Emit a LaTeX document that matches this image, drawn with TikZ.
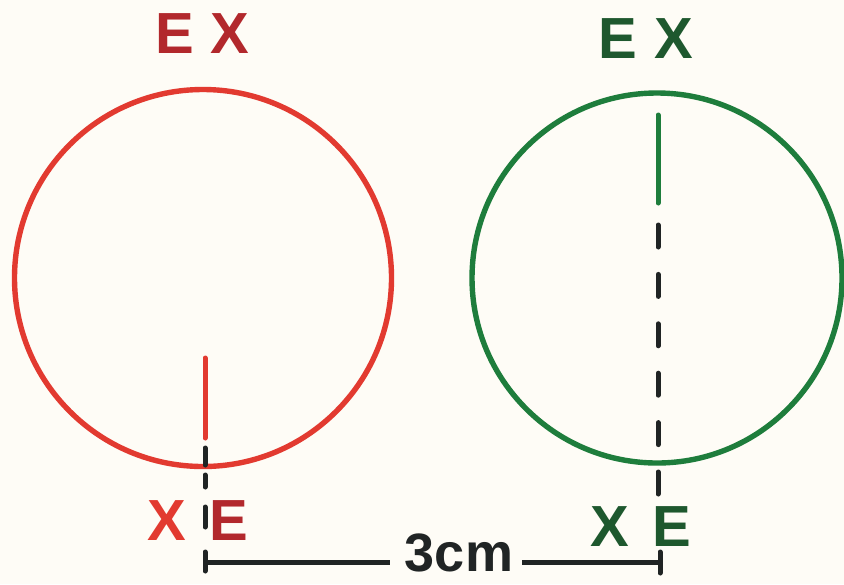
\documentclass[tikz,border=0pt]{standalone}
\usepackage{fontspec}
\setmainfont{Liberation Sans}

\definecolor{paper}{RGB}{254,252,246}
\definecolor{redink}{RGB}{226,58,48}
\definecolor{darkred}{RGB}{178,40,44}
\definecolor{greenink}{RGB}{30,125,60}
\definecolor{darkgreen}{RGB}{30,88,46}
\definecolor{ink}{RGB}{32,36,36}

\begin{document}
\begin{tikzpicture}[
    x=0.5pt, y=-0.5pt,
    ring/.style={circle, draw, line width=2.7pt,
                 minimum size=#1, inner sep=0pt},
    letter/.style={inner sep=0pt,
                   font=\fontsize{29}{30}\selectfont\bfseries},
    axisline/.style={line width=2.5pt, line cap=round},
    bar/.style={line width=2.5pt, draw=ink}
]
    \fill[paper] (0,0) rectangle (844,584);
    \useasboundingbox (0,0) rectangle (844,584);

    % the two circles
    \node[ring=188.5pt, draw=redink]   (redring)   at (203,278) {};
    \node[ring=185pt,   draw=greenink] (greenring) at (657,278) {};

    % labels above
    \node[letter, text=darkred]   (redtopE)   at (175,34) {E};
    \node[letter, text=darkred]   (redtopX)   at (230,34) {X};
    \node[letter, text=darkgreen] (greentopE) at (618,39) {E};
    \node[letter, text=darkgreen] (greentopX) at (674,39) {X};

    % labels below
    \node[letter, text=redink]    (redbotX)   at (167,521) {X};
    \node[letter, text=darkred]   (redbotE)   at (229,521) {E};
    \node[letter, text=darkgreen] (greenbotX) at (610,527) {X};
    \node[letter, text=darkgreen] (greenbotE) at (672,527) {E};

    % red axis: solid part inside, dashes across the rim
    \coordinate (redA) at (205,358);
    \coordinate (redB) at (205,438);
    \coordinate (redC) at (205,448);
    \coordinate (redD) at (205,527);
    \draw[axisline, redink] (redA) -- (redB);
    \draw[axisline, ink, dash pattern={on 8.5pt off 5pt on 6pt off 10pt on 10pt}]
        (redC) -- (redD);

    % green axis: solid part at the top, then dashed to below the rim
    \coordinate (greenA) at (658,115);
    \coordinate (greenB) at (658,203);
    \coordinate (greenC) at (658,225);
    \coordinate (greenD) at (658,495);
    \draw[axisline, greenink] (greenA) -- (greenB);
    \draw[axisline, ink, dash pattern=on 11pt off 13.7pt] (greenC) -- (greenD);

    % scale bar
    \coordinate (barL) at (205,562);
    \coordinate (barR) at (660,562);
    \node[letter, text=ink, font=\fontsize{27}{28}\selectfont\bfseries]
        (scale) at (459,553) {3cm};
    \draw[bar] (barL) -- (barL -| 390,0);
    \draw[bar] (barR -| 522,0) -- (barR);
    \draw[bar, line cap=round] (barL) ++(0,-10) -- ++(0,19);
    \draw[bar, line cap=round] (barR) ++(0,-10) -- ++(0,21);

\end{tikzpicture}
\end{document}
